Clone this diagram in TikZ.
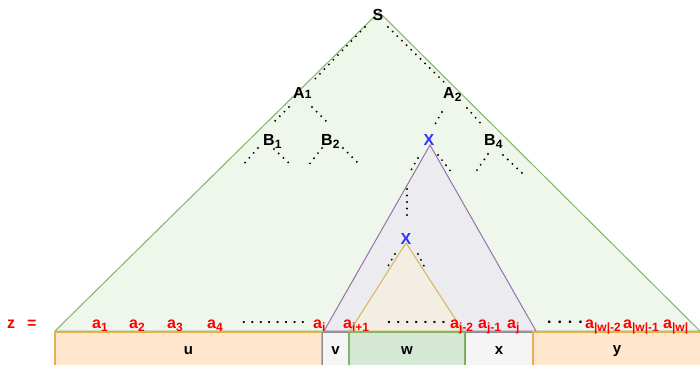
\documentclass[tikz,border=0pt]{standalone}
\usepackage{fontspec}
\setmainfont{Liberation Sans}
\definecolor{gfill}{HTML}{EFF7EC}
\definecolor{gline}{HTML}{82B366}
\definecolor{pfill}{HTML}{EBEBF0}
\definecolor{pline}{HTML}{9673A6}
\definecolor{yfill}{HTML}{F2EEE3}
\definecolor{yline}{HTML}{D6B656}
\definecolor{ofill}{HTML}{FFE6CC}
\definecolor{oline}{HTML}{E6B050}
\definecolor{gyfill}{HTML}{F5F5F5}
\definecolor{gyline}{HTML}{8C8C8C}
\definecolor{wfill}{HTML}{D5E8D4}
\definecolor{zred}{HTML}{FF0000}
\definecolor{xblue}{HTML}{3333FF}
\newcommand{\sbx}[1]{\raisebox{-3.5pt}{\fontsize{12}{12}\selectfont #1}}
\newcommand{\sbn}[1]{{\fontsize{12}{12}\selectfont #1}}
\begin{document}
\begin{tikzpicture}[x=1pt,y=-1pt,
  lbl/.style={font=\fontsize{16}{16}\selectfont\bfseries, inner sep=0pt},
  redlbl/.style={lbl, text=zred, anchor=base west},
  boxlbl/.style={font=\fontsize{15}{15}\selectfont\bfseries, inner sep=0pt},
  dotrow/.style={inner sep=0pt, anchor=base west, font=\bfseries},
  dotline/.style={line width=2.1pt, line cap=round, dash pattern=on 0pt off 6.5pt, black},
]
\useasboundingbox (0,0) rectangle (700,364);

% main triangles
\coordinate (gTop) at (379,12); \coordinate (gL) at (55,331); \coordinate (gR) at (700,331);
\filldraw[fill=gfill, draw=gline, line width=1pt] (gL) -- (gTop) -- (gR) -- cycle;
\coordinate (pTop) at (430,145); \coordinate (pL) at (324,331); \coordinate (pR) at (536,331);
\filldraw[fill=pfill, draw=pline, line width=1pt] (pL) -- (pTop) -- (pR) -- cycle;
\coordinate (yTop) at (406,243); \coordinate (yL) at (350,331); \coordinate (yR) at (463,331);
\filldraw[fill=yfill, draw=yline, line width=1pt] (yL) -- (yTop) -- (yR) -- cycle;

% boxes
\filldraw[fill=ofill, draw=oline, line width=1.5pt] (55,332) rectangle (322,372);
\filldraw[fill=gyfill, draw=gyline, line width=1pt] (322,332) rectangle (349,372);
\filldraw[fill=wfill, draw=gline, line width=1.5pt] (349,332) rectangle (465,372);
\filldraw[fill=gyfill, draw=gyline, line width=1pt] (465,332) rectangle (533,372);
\filldraw[fill=ofill, draw=oline, line width=1.5pt] (533,332) rectangle (702,372);

\node[boxlbl] (u) at (188.5,351) {u};
\node[boxlbl] (v) at (335.5,351) {v};
\node[boxlbl] (w) at (407,351) {w};
\node[boxlbl] (x) at (499,351) {x};
\node[boxlbl] (y) at (617,351) {y};

% tree labels
\node[lbl] (S) at (378,15) {S};
\node[lbl, anchor=base west] (A1) at (293,98) {A\sbn{1}};
\node[lbl, anchor=base west] (A2) at (443,98) {A\sbx{2}};
\node[lbl, anchor=base west] (B1) at (263,145) {B\sbx{1}};
\node[lbl, anchor=base west] (B2) at (321,145) {B\sbx{2}};
\node[lbl, anchor=base west] (B4) at (484,145) {B\sbx{4}};
\node[lbl, text=xblue] (X1) at (429,139.5) {X};
\node[lbl, text=xblue] (X2) at (406,239) {X};

% dotted branch ends
\coordinate (s1) at (365,27); \coordinate (s2) at (312,82);
\coordinate (s3) at (388,27); \coordinate (s4) at (448,86);
\coordinate (a1) at (289,107); \coordinate (a2) at (273,123);
\coordinate (a3) at (312,107); \coordinate (a4) at (330,125);
\coordinate (b1) at (258,148); \coordinate (b2) at (242,166);
\coordinate (b3) at (274,149); \coordinate (b4) at (292,166);
\coordinate (b5) at (322,148); \coordinate (b6) at (308,166);
\coordinate (b7) at (343,148); \coordinate (b8) at (360,165);
\coordinate (c1) at (442,112); \coordinate (c2) at (434,126);
\coordinate (c3) at (467,108); \coordinate (c4) at (483,126);
\coordinate (d1) at (488,154); \coordinate (d2) at (475,173);
\coordinate (d3) at (503,155); \coordinate (d4) at (522,173);
\coordinate (x1) at (418,158); \coordinate (x2) at (410,172);
\coordinate (x3) at (407,189); \coordinate (x4) at (407,221);
\coordinate (x5) at (438,155); \coordinate (x6) at (452,173);
\coordinate (e1) at (395,254); \coordinate (e2) at (387,268);
\coordinate (e3) at (418,254); \coordinate (e4) at (425,268);
\foreach \p/\q in {s1/s2,s3/s4,a1/a2,a3/a4,b1/b2,b3/b4,b5/b6,b7/b8,c1/c2,c3/c4,d1/d2,d3/d4,x1/x2,x3/x4,x5/x6,e1/e2,e3/e4}
  \draw[dotline] (\p) -- (\q);

% string z
\node[redlbl] (z) at (7,328) {z};
\node[redlbl] (eq) at (27,328) {=};
\node[redlbl] (t1) at (92,328) {a\sbx{1}};
\node[redlbl] (t2) at (129,328) {a\sbx{2}};
\node[redlbl] (t3) at (167,328) {a\sbx{3}};
\node[redlbl] (t4) at (207,328) {a\sbx{4}};
\node[dotrow, font=\fontsize{13}{13}\selectfont\bfseries] (d1t) at (242,323.5) {. . . . . . . .};
\node[redlbl] (t5) at (313,328) {a\sbx{i}};
\node[redlbl] (t6) at (343,328) {a\sbx{i+1}};
\node[dotrow, font=\fontsize{14}{14}\selectfont\bfseries] (d2t) at (387,323.5) {. . . . . . .};
\node[redlbl] (t7) at (450,328) {a\sbx{j-2}};
\node[redlbl] (t8) at (478,328) {a\sbx{j-1}};
\node[redlbl] (t9) at (507,328) {a\sbx{j}};
\node[dotrow, font=\fontsize{16}{16}\selectfont\bfseries] (d3t) at (547,323.5) {. . . .};
\node[redlbl] (t10) at (585,328) {a\sbx{|w|-2}};
\node[redlbl] (t11) at (623,328) {a\sbx{|w|-1}};
\node[redlbl] (t12) at (663,328) {a\sbx{|w|}};
\end{tikzpicture}
\end{document}
